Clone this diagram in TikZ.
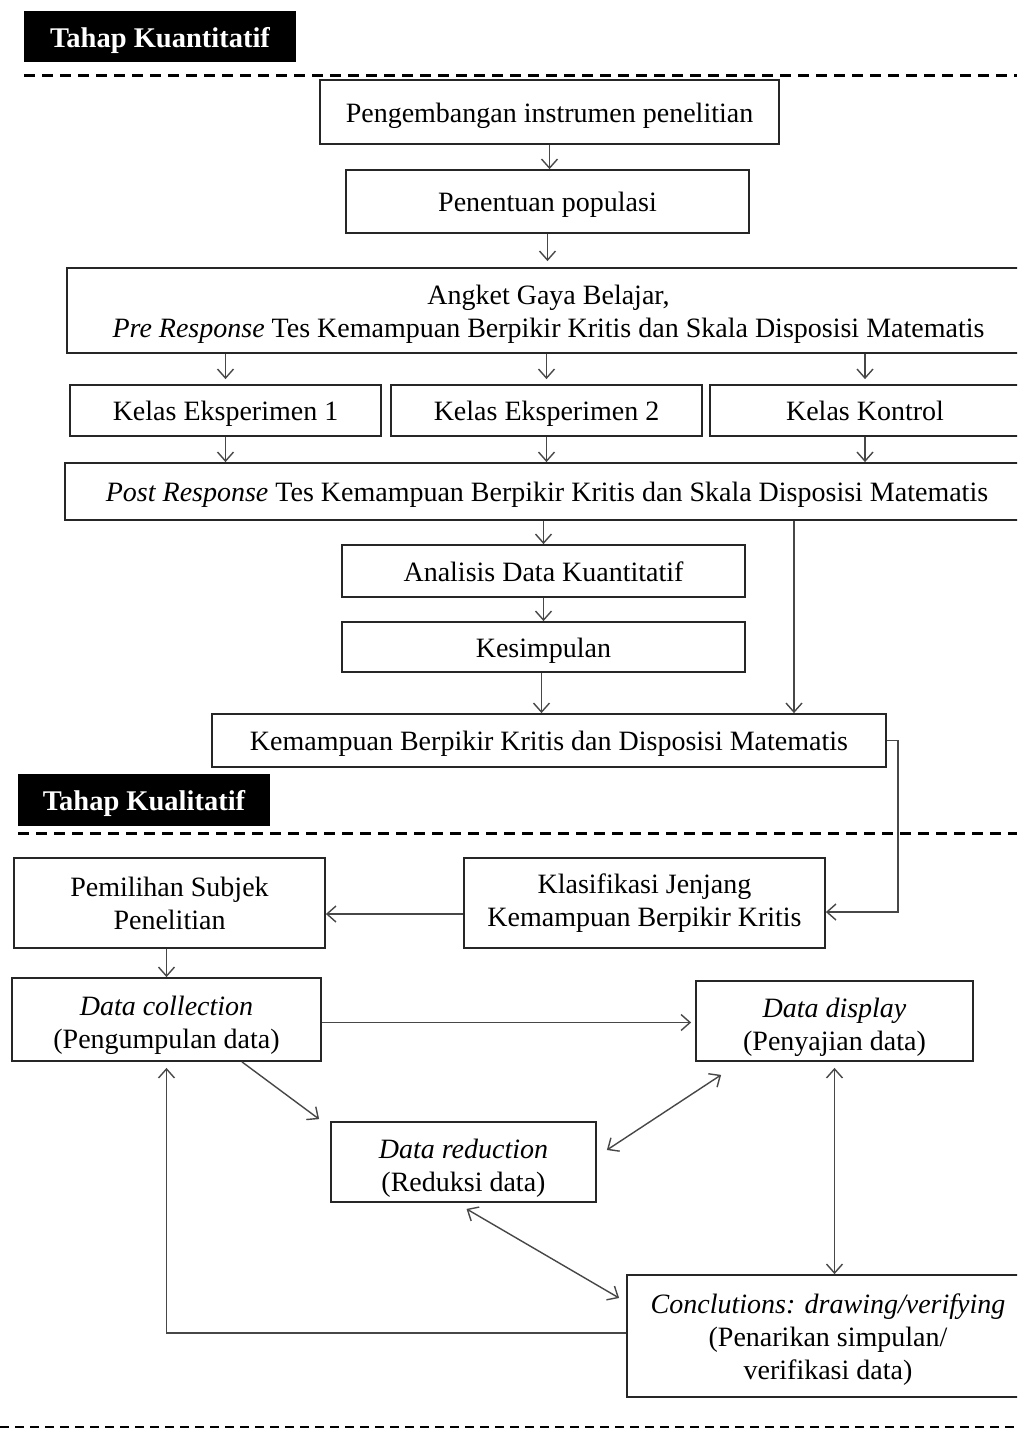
\documentclass[tikz,border=0pt]{standalone}
\usepackage{fontspec}
\setmainfont{Liberation Serif}
\usetikzlibrary{arrows.meta,calc}
\newcommand\tsA{\rule{0pt}{32pt}}
\newcommand\tsB{\rule{0pt}{27pt}}
\newcommand\bsA{\rule[-7pt]{0pt}{7pt}}
\begin{document}
\begin{tikzpicture}[x=1pt,y=-1pt,
  box/.style={draw=black!85,line width=1.8pt,fill=white,inner sep=0pt,align=center,
    font=\fontsize{28}{33}\selectfont},
  one/.style={box,text height=27pt,text depth=7pt},
  title/.style={fill=black,text=white,inner sep=0pt,font=\bfseries\fontsize{28.5}{30}\selectfont},
  tip/.tip={Straight Barb[length=9pt,width=16pt,line width=1.4pt]},
  arr/.style={draw=black!72,line width=1.4pt,-tip},
  darr/.style={draw=black!72,line width=1.4pt,tip-tip},
  sep/.style={draw=black,line width=3pt,dash pattern=on 11pt off 7pt},
  sepb/.style={draw=black,line width=2.5pt,dash pattern=on 9pt off 6pt}]
\clip (0,0) rectangle (1017,1429);
\fill[white] (0,0) rectangle (1017,1429);

% titles and separators
\node[title,minimum width=272,minimum height=51,text height=24pt,text depth=1pt] (t1) at (160,36.5) {Tahap Kuantitatif};
\draw[sep] (24,75) -- (1017,75);
\node[title,minimum width=252,minimum height=52,text height=22pt,text depth=2pt] (t2) at (144,800) {Tahap Kualitatif};
\draw[sep] (18,833) -- (1017,833);
\draw[sepb] (0,1427) -- (1017,1427);

% quantitative part
\node[one,minimum width=459,minimum height=64] (p1) at (549.5,112) {Pengembangan instrumen penelitian};
\node[one,minimum width=403,minimum height=63] (p2) at (547.5,201.5) {Penentuan populasi};
\node[box,minimum width=963,minimum height=85] (ang) at (548.5,310.5)
  {\tsB Angket Gaya Belajar,\\\textit{Pre Response} Tes Kemampuan Berpikir Kritis dan Skala Disposisi Matematis\bsA};
\node[one,minimum width=311,minimum height=51] (k1) at (225.5,410.5) {Kelas Eksperimen 1};
\node[one,minimum width=311,minimum height=51] (k2) at (546.5,410.5) {Kelas Eksperimen 2};
\node[one,minimum width=310,minimum height=51] (k3) at (865,410.5) {Kelas Kontrol};
\node[one,minimum width=964,minimum height=57] (post) at (547,491.5)
  {\textit{Post Response} Tes Kemampuan Berpikir Kritis dan Skala Disposisi Matematis};
\node[one,minimum width=403,minimum height=52] (ana) at (543.5,571) {Analisis Data Kuantitatif};
\node[one,minimum width=403,minimum height=50] (kes) at (543.5,647) {Kesimpulan};
\node[one,minimum width=674,minimum height=53] (kem) at (549,740.5) {Kemampuan Berpikir Kritis dan Disposisi Matematis};
\coordinate (c794) at (794,0);

\draw[arr] (p1.south) -- (p1.south |- p2.north);
\draw[arr] (p2.south) -- ([yshift=6pt]p2.south |- ang.north);
\foreach \k in {k1,k2,k3}{
  \draw[arr] (ang.south -| \k) -- ([yshift=5pt]\k.north);
  \draw[arr] (\k.south) -- (\k.south |- post.north);
}
\draw[arr] (post.south -| ana) -- (ana.north);
\draw[arr] (ana.south) -- (kes.north);
\draw[arr] ([xshift=-2pt]kes.south) -- ([xshift=-2pt]kes.south |- kem.north);
\draw[arr] (post.south -| c794) -- (kem.north -| c794);

% qualitative part
\node[box,minimum width=311,minimum height=90] (pem) at (169.5,903) {Pemilihan Subjek\\Penelitian};
\node[box,minimum width=361,minimum height=90] (kla) at (644.5,903) {Klasifikasi Jenjang\\Kemampuan Berpikir Kritis};
\node[box,minimum width=309,minimum height=83] (dc) at (166.5,1019.5) {\tsA\textit{Data collection}\\(Pengumpulan data)\bsA};
\node[box,minimum width=277,minimum height=80] (dd) at (834.5,1021) {\tsA\textit{Data display}\\(Penyajian data)\bsA};
\node[box,minimum width=265,minimum height=80] (dr) at (463.5,1162) {\tsA\textit{Data reduction}\\(Reduksi data)\bsA};
\node[box,minimum width=402,minimum height=122] (con) at (828,1336)
  {\tsB\textit{Conclutions: drawing/verifying}\\(Penarikan simpulan/\\verifikasi data)\bsA};

\draw[arr] (kem.east) -- ++(11,0) |- ([yshift=-9pt]kla.east);
\draw[arr] ([yshift=-11pt]kla.west) -- ([yshift=-11pt]kla.west -| pem.east);
\draw[arr] ([xshift=-3pt]pem.south) -- ([xshift=-3pt]pem.south |- dc.north);
\draw[arr] ([yshift=-3pt]dc.east) -- ([xshift=-4pt,yshift=-3pt]dc.east -| dd.west);
\draw[arr] ([xshift=75.5pt]dc.south) -- ([xshift=-11pt,yshift=2pt]dr.north west);
\draw[darr] ([xshift=10pt,yshift=12pt]dr.east) -- ([xshift=26pt,yshift=-13pt]dd.south west);
\draw[darr] ([yshift=-6pt]dd.south) -- (dd.south |- con.north);
\draw[darr] ([xshift=3pt,yshift=-6pt]dr.south) -- ([xshift=-7pt,yshift=38pt]con.west);
\draw[arr] ([yshift=3pt]con.west) -| ([yshift=-6pt]dc.south);
\end{tikzpicture}
\end{document}
